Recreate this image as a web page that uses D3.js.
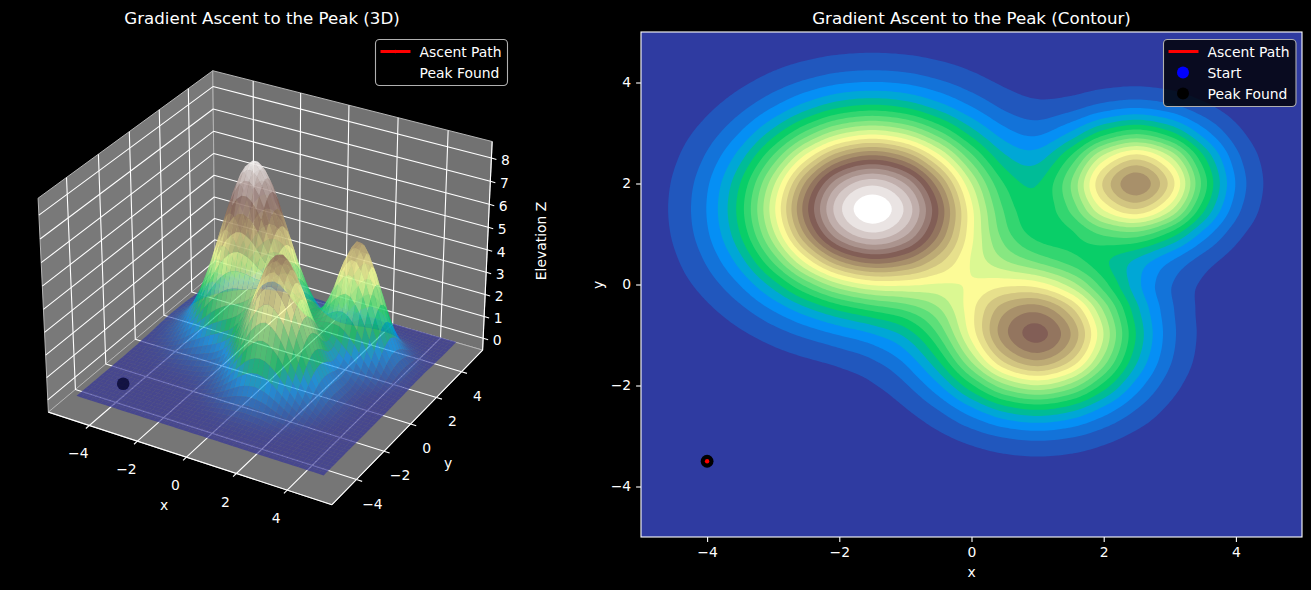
<!DOCTYPE html>
<html lang="en">
<head>
<meta charset="UTF-8">
<title>Gradient Ascent to the Peak</title>
<script src="https://cdn.jsdelivr.net/npm/d3@7"></script>
<style>
  html, body { margin: 0; background: #000; }
  text { font-family: "DejaVu Sans", sans-serif; fill: #fff; }
</style>
</head>
<body>
<svg id="chart" width="1311" height="590"></svg>
<script>
// elevation estimated from the picture's contour radii (typed grid, 0.5 step, rows y=5 down to y=-5)
const gridX = [-5,-4.5,-4,-3.5,-3,-2.5,-2,-1.5,-1,-0.5,0,0.5,1,1.5,2,2.5,3,3.5,4,4.5,5];
const gridY = [5,4.5,4,3.5,3,2.5,2,1.5,1,0.5,0,-0.5,-1,-1.5,-2,-2.5,-3,-3.5,-4,-4.5,-5];
const elevation = [
  [0,.01,.02,.04,.06,.10,.12,.13,.12,.10,.06,.04,.02,.01,0,.01,0,0,0,0,0],
  [.01,.02,.05,.10,.19,.28,.36,.39,.36,.28,.19,.10,.06,.04,.05,.04,.04,.02,.01,0,0],
  [.02,.05,.12,.26,.47,.71,.91,.98,.91,.71,.47,.27,.17,.16,.22,.25,.20,.11,.04,.01,0],
  [.04,.10,.26,.55,.98,1.49,1.92,2.08,1.92,1.49,.99,.59,.43,.54,.81,.95,.78,.44,.17,.04,.01],
  [.06,.19,.47,.98,1.76,2.67,3.43,3.73,3.43,2.68,1.78,1.10,.90,1.33,2.09,2.48,2.03,1.14,.44,.11,.02],
  [.10,.28,.71,1.49,2.67,4.06,5.21,5.66,5.21,4.06,2.72,1.70,1.49,2.32,3.71,4.41,3.62,2.03,.77,.20,.04],
  [.12,.36,.91,1.92,3.43,5.21,6.69,7.27,6.70,5.23,3.52,2.22,1.91,2.87,4.54,5.36,4.39,2.46,.94,.24,.04],
  [.13,.39,.98,2.08,3.73,5.66,7.27,7.91,7.30,5.75,3.92,2.51,2.01,2.64,3.90,4.49,3.65,2.04,.78,.20,.04],
  [.12,.36,.91,1.92,3.43,5.21,6.70,7.30,6.79,5.46,3.93,2.72,2.12,2.19,2.62,2.74,2.14,1.17,.44,.12,.02],
  [.10,.28,.71,1.49,2.68,4.06,5.23,5.74,5.46,4.66,3.81,3.18,2.74,2.37,2.00,1.57,1.03,.52,.19,.05,.01],
  [.06,.19,.47,.98,1.76,2.68,3.47,3.89,3.91,3.81,3.88,4.07,4.00,3.38,2.38,1.39,.68,.27,.08,.02,0],
  [.04,.10,.26,.55,.99,1.50,1.97,2.31,2.60,3.14,4.06,5.03,5.34,4.60,3.15,1.70,.73,.24,.06,.01,0],
  [.02,.05,.12,.26,.47,.72,.97,1.24,1.68,2.57,3.95,5.33,5.87,5.12,3.51,1.88,.78,.25,.06,.01,0],
  [.01,.02,.05,.10,.19,.29,.42,.62,1.05,1.93,3.26,4.58,5.12,4.50,3.08,1.65,.69,.22,.06,.01,0],
  [0,.01,.02,.04,.06,.10,.16,.29,.60,1.23,2.18,3.11,3.50,3.08,2.12,1.13,.47,.15,.04,.01,0],
  [0,0,.01,.01,.02,.03,.06,.12,.29,.63,1.15,1.66,1.87,1.65,1.13,.61,.25,.08,.02,0,0],
  [0,0,0,0,0,.01,.02,.04,.11,.26,.48,.69,.78,.69,.47,.25,.11,.03,.01,0,0],
  [0,0,0,0,0,0,.01,.01,.04,.08,.15,.22,.25,.22,.15,.08,.03,.01,0,0,0],
  [0,0,0,0,0,0,0,0,.01,.02,.04,.06,.06,.06,.04,.02,.01,0,0,0,0],
  [0,0,0,0,0,0,0,0,0,0,.01,.01,.01,.01,.01,0,0,0,0,0,0],
  [0,0,0,0,0,0,0,0,0,0,0,0,0,0,0,0,0,0,0,0,0]
];
const bandLevels = [.32,.64,.96,1.28,1.6,1.92,2.24,2.56,2.88,3.2,3.52,3.84,4.16,4.48,4.8,5.12,5.44,5.76,6.08,6.4,6.72,7.04,7.36,7.68];
const pathX = [-4, -4];
const pathY = [-3.5, -3.5];
const xyTicks = [-4,-2,0,2,4];
const zTicks = [0,1,2,3,4,5,6,7,8];

const terrain = d3.scaleLinear()
  .domain([0,.15,.25,.5,.75,1])
  .range(["rgb(51,51,153)","rgb(0,153,255)","rgb(0,204,102)","rgb(255,255,153)","rgb(128,92,84)","rgb(255,255,255)"]);
const zPeak = 7.95;
const fmt = v => String(v).replace("-", "\u2212");
const svg = d3.select("#chart");
const line = d3.line();

// finer sampling between the typed grid values, used for drawing only
const cr = (a,b,c,d,t) => 0.5*(2*b+(c-a)*t+(2*a-5*b+4*c-d)*t*t+(3*b-a-3*c+d)*t*t*t);
function surfaceAt(x,y) {
  const fx = (x+5)*2, fy = (5-y)*2;
  const ix = Math.max(0,Math.min(19,Math.floor(fx))), iy = Math.max(0,Math.min(19,Math.floor(fy)));
  const tx = fx-ix, ty = fy-iy;
  const cl = (v) => Math.max(0,Math.min(20,v));
  const rows = [-1,0,1,2].map(dj => {
    const r = elevation[cl(iy+dj)];
    return cr(r[cl(ix-1)],r[ix],r[ix+1],r[cl(ix+2)],tx);
  });
  return Math.max(0,cr(rows[0],rows[1],rows[2],rows[3],ty));
}

// ---- contour panel ----
const cx = d3.scaleLinear([-5,5],[641,1302]);
const cy = d3.scaleLinear([-5,5],[537,32]);
const right = svg.append("g");
const clip = svg.append("defs").append("clipPath").attr("id","cclip");
clip.append("rect").attr("x",641).attr("y",32).attr("width",661).attr("height",505);
const bands = right.append("g").attr("clip-path","url(#cclip)");
const bandColor = i => terrain(0.012 + 0.988*i/bandLevels.length);
bands.append("rect").attr("x",641).attr("y",32).attr("width",661).attr("height",505).attr("fill",bandColor(0));

const fineSize = 201;
const fineAxis = d3.scaleLinear([0,fineSize-1],[-5,5]);
const fineValues = [];
for (let j=0;j<fineSize;j++) for (let i=0;i<fineSize;i++) fineValues.push(surfaceAt(fineAxis(i),-fineAxis(j)));
// d3.contours puts sample i at i+0.5
const gx = d3.scaleLinear([0.5,fineSize-0.5],[-5,5]);
const gy = d3.scaleLinear([0.5,fineSize-0.5],[5,-5]);
const contourData = d3.contours().size([fineSize,fineSize]).thresholds(bandLevels)(fineValues);
bands.selectAll("path.band").data(contourData).join("path")
  .attr("class","band")
  .attr("fill-rule","evenodd")
  .attr("fill",(d,i) => bandColor(i+1))
  .attr("d",d => d.coordinates.map(poly => poly.map(ring =>
    line(ring.map(p => [cx(gx(p[0])), cy(gy(p[1]))]))+"Z").join("")).join(""));

right.append("circle").attr("cx",cx(pathX[0])).attr("cy",cy(pathY[0])).attr("r",6).attr("fill","#0000ff");
right.append("circle").attr("cx",cx(pathX[1])).attr("cy",cy(pathY[1])).attr("r",6.4).attr("fill","#000");
right.append("circle").attr("cx",cx(pathX[1])).attr("cy",cy(pathY[1])).attr("r",2.2).attr("fill","#f00");

right.append("rect").attr("x",641).attr("y",32).attr("width",661).attr("height",505)
  .attr("fill","none").attr("stroke","#fff").attr("stroke-width",1.1);
const xAxis = right.append("g").attr("transform","translate(0,537)")
  .call(d3.axisBottom(cx).tickValues(xyTicks).tickFormat(fmt).tickSize(4.9).tickPadding(5));
const yAxis = right.append("g").attr("transform","translate(641,0)")
  .call(d3.axisLeft(cy).tickValues(xyTicks).tickFormat(fmt).tickSize(4.9).tickPadding(5));
[xAxis,yAxis].forEach(a => {
  a.select(".domain").remove();
  a.selectAll("line").attr("stroke","#fff").attr("stroke-width",1.1);
  a.selectAll("text").attr("font-size",13.9).attr("font-family","DejaVu Sans").style("fill","#fff");
});
right.append("text").attr("x",971.5).attr("y",577).attr("text-anchor","middle").attr("font-size",13.9).text("x");
right.append("text").attr("transform","translate(603,285) rotate(-90)").attr("text-anchor","middle").attr("font-size",13.9).text("y");
right.append("text").attr("x",971.5).attr("y",24).attr("text-anchor","middle").attr("font-size",16.67).text("Gradient Ascent to the Peak (Contour)");

// ---- 3D panel ----
const boxX = d3.scaleLinear([-5.73,5.73],[0,1.19]);
const boxY = d3.scaleLinear([-5.73,5.73],[0,1.19]);
const boxZ = d3.scaleLinear([-0.55,8.7],[0,0.893]);
const screenX = d3.scaleLinear([0,1],[269.5,269.5+2730]);
const screenY = d3.scaleLinear([0,1],[277.3,277.3-2730]);
const centre = [0.595,0.595,0.4465];
const viewU = [0.866,0.5,0], viewV = [-0.25,0.433,0.866], viewW = [0.433,-0.75,0.5];
const dot = (a,b) => a[0]*b[0]+a[1]*b[1]+a[2]*b[2];
function project(x,y,z) {
  const p = [boxX(x)-centre[0], boxY(y)-centre[1], boxZ(z)-centre[2]];
  const depth = 10 - dot(p,viewW);
  return { sx: screenX(dot(p,viewU)/depth), sy: screenY(dot(p,viewV)/depth), depth };
}
const pt = (x,y,z) => { const p = project(x,y,z); return [p.sx,p.sy]; };
const [x0,x1] = boxX.domain(), [y0,y1] = boxY.domain(), [z0,z1] = boxZ.domain();

const left = svg.append("g");
const panes = [
  { fill:"#797979", pts:[[x0,y0,z0],[x0,y1,z0],[x0,y1,z1],[x0,y0,z1]] },
  { fill:"#727272", pts:[[x0,y1,z0],[x1,y1,z0],[x1,y1,z1],[x0,y1,z1]] },
  { fill:"#767676", pts:[[x0,y0,z0],[x1,y0,z0],[x1,y1,z0],[x0,y1,z0]] }
];
left.selectAll("path.pane").data(panes).join("path").attr("class","pane")
  .attr("d",d => line(d.pts.map(p => pt(...p)))+"Z")
  .attr("fill",d => d.fill).attr("stroke","#b4b4b4").attr("stroke-width",1);

const gridLines = [];
xyTicks.forEach(v => {
  gridLines.push([[v,y0,z0],[v,y1,z0],[v,y1,z1]]);
  gridLines.push([[x1,v,z0],[x0,v,z0],[x0,v,z1]]);
});
zTicks.forEach(v => gridLines.push([[x0,y0,v],[x0,y1,v],[x1,y1,v]]));
left.selectAll("path.grid").data(gridLines).join("path").attr("class","grid")
  .attr("d",d => line(d.map(p => pt(...p))))
  .attr("fill","none").attr("stroke","#fff").attr("stroke-width",1.1).attr("stroke-linejoin","bevel");

// axis edges
[[[x0,y0,z0],[x1,y0,z0]],[[x1,y0,z0],[x1,y1,z0]],[[x1,y1,z0],[x1,y1,z1]]].forEach(e => {
  left.append("path").attr("d",line(e.map(p => pt(...p)))).attr("stroke","#fff").attr("stroke-width",1.1);
});

// ticks and labels
const addTick = (a,b,dx,dy,val) => {
  left.append("path").attr("d",line([a,b])).attr("stroke","#fff").attr("stroke-width",1.1);
  left.append("text").attr("x",a[0]+dx).attr("y",a[1]+dy).attr("text-anchor","middle")
    .attr("dominant-baseline","central").attr("font-size",13.9).text(val);
};
xyTicks.forEach(v => {
  addTick(pt(v,y0,z0), pt(v,y0-0.22,z0), -11, 28, fmt(v));
  addTick(pt(x1,v,z0), pt(x1+0.22,v,z0), 16, 24, fmt(v));
});
zTicks.forEach(v => {
  const a = pt(x1,y1,v);
  addTick(a, [a[0]+5,a[1]+1.5], 14, 2, fmt(v));
});
left.append("text").attr("x",164).attr("y",510).attr("text-anchor","middle").attr("font-size",13.9).text("x");
left.append("text").attr("x",448).attr("y",468).attr("text-anchor","middle").attr("font-size",13.9).text("y");
left.append("text").attr("transform","translate(546,241) rotate(-90)").attr("text-anchor","middle").attr("font-size",13.9).text("Elevation Z");
left.append("text").attr("x",262).attr("y",24).attr("text-anchor","middle").attr("font-size",16.67).text("Gradient Ascent to the Peak (3D)");

const meshCells = 50;
const meshU = d3.scaleLinear([0,meshCells],[-5,5]);
const quads = [];
for (let i=0;i<meshCells;i++) for (let j=0;j<meshCells;j++) {
  const corners = [[i,j],[i+1,j],[i+1,j+1],[i,j+1]].map(c => {
    const x = meshU(c[0]), y = meshU(c[1]);
    return [x,y,surfaceAt(x,y)];
  });
  const proj = corners.map(c => project(...c));
  quads.push({
    pts: proj.map(p => [p.sx,p.sy]),
    depth: d3.mean(proj,p => p.depth),
    z: d3.mean(corners,c => c[2])
  });
}
quads.sort((a,b) => b.depth-a.depth);
left.append("g").selectAll("path").data(quads).join("path")
  .attr("d",d => line(d.pts)+"Z")
  .attr("fill",d => terrain(Math.min(1,d.z/zPeak)))
  .attr("fill-opacity",0.7);

const startPt = pt(pathX[0],pathY[0],0);
left.append("circle").attr("cx",startPt[0]).attr("cy",startPt[1]).attr("r",6.3).attr("fill","#0000ff").attr("fill-opacity",0.3);
left.append("circle").attr("cx",startPt[0]).attr("cy",startPt[1]).attr("r",6.3).attr("fill","#000").attr("fill-opacity",0.62);

// ---- legends ----
function legend(g,x,y,w,h,fill,markerR,rows) {
  g.append("rect").attr("x",x).attr("y",y).attr("width",w).attr("height",h).attr("rx",4)
    .attr("fill",fill).attr("stroke","#b0b0b0").attr("stroke-width",1.1);
  rows.forEach((r,i) => {
    const ry = y+12+i*21;
    if (r.kind === "line") {
      g.append("path").attr("d",line([[x+5,ry],[x+35,ry]])).attr("stroke","#f00").attr("stroke-width",3);
      if (markerR) g.append("circle").attr("cx",x+20).attr("cy",ry).attr("r",markerR).attr("fill","#f00");
    } else {
      g.append("circle").attr("cx",x+19.5).attr("cy",ry).attr("r",6).attr("fill",r.color);
    }
    g.append("text").attr("x",x+44).attr("y",ry).attr("dominant-baseline","central").attr("font-size",13.9).text(r.label);
  });
}
legend(left,375.5,39.5,132,46,"#000",1.8,[
  {kind:"line",label:"Ascent Path"},
  {kind:"dot",color:"#000",label:"Peak Found"}
]);
legend(right,1163.5,39.5,132.5,67,"rgba(0,0,0,0.8)",0,[
  {kind:"line",label:"Ascent Path"},
  {kind:"dot",color:"#0000ff",label:"Start"},
  {kind:"dot",color:"#000",label:"Peak Found"}
]);
</script>
</body>
</html>
